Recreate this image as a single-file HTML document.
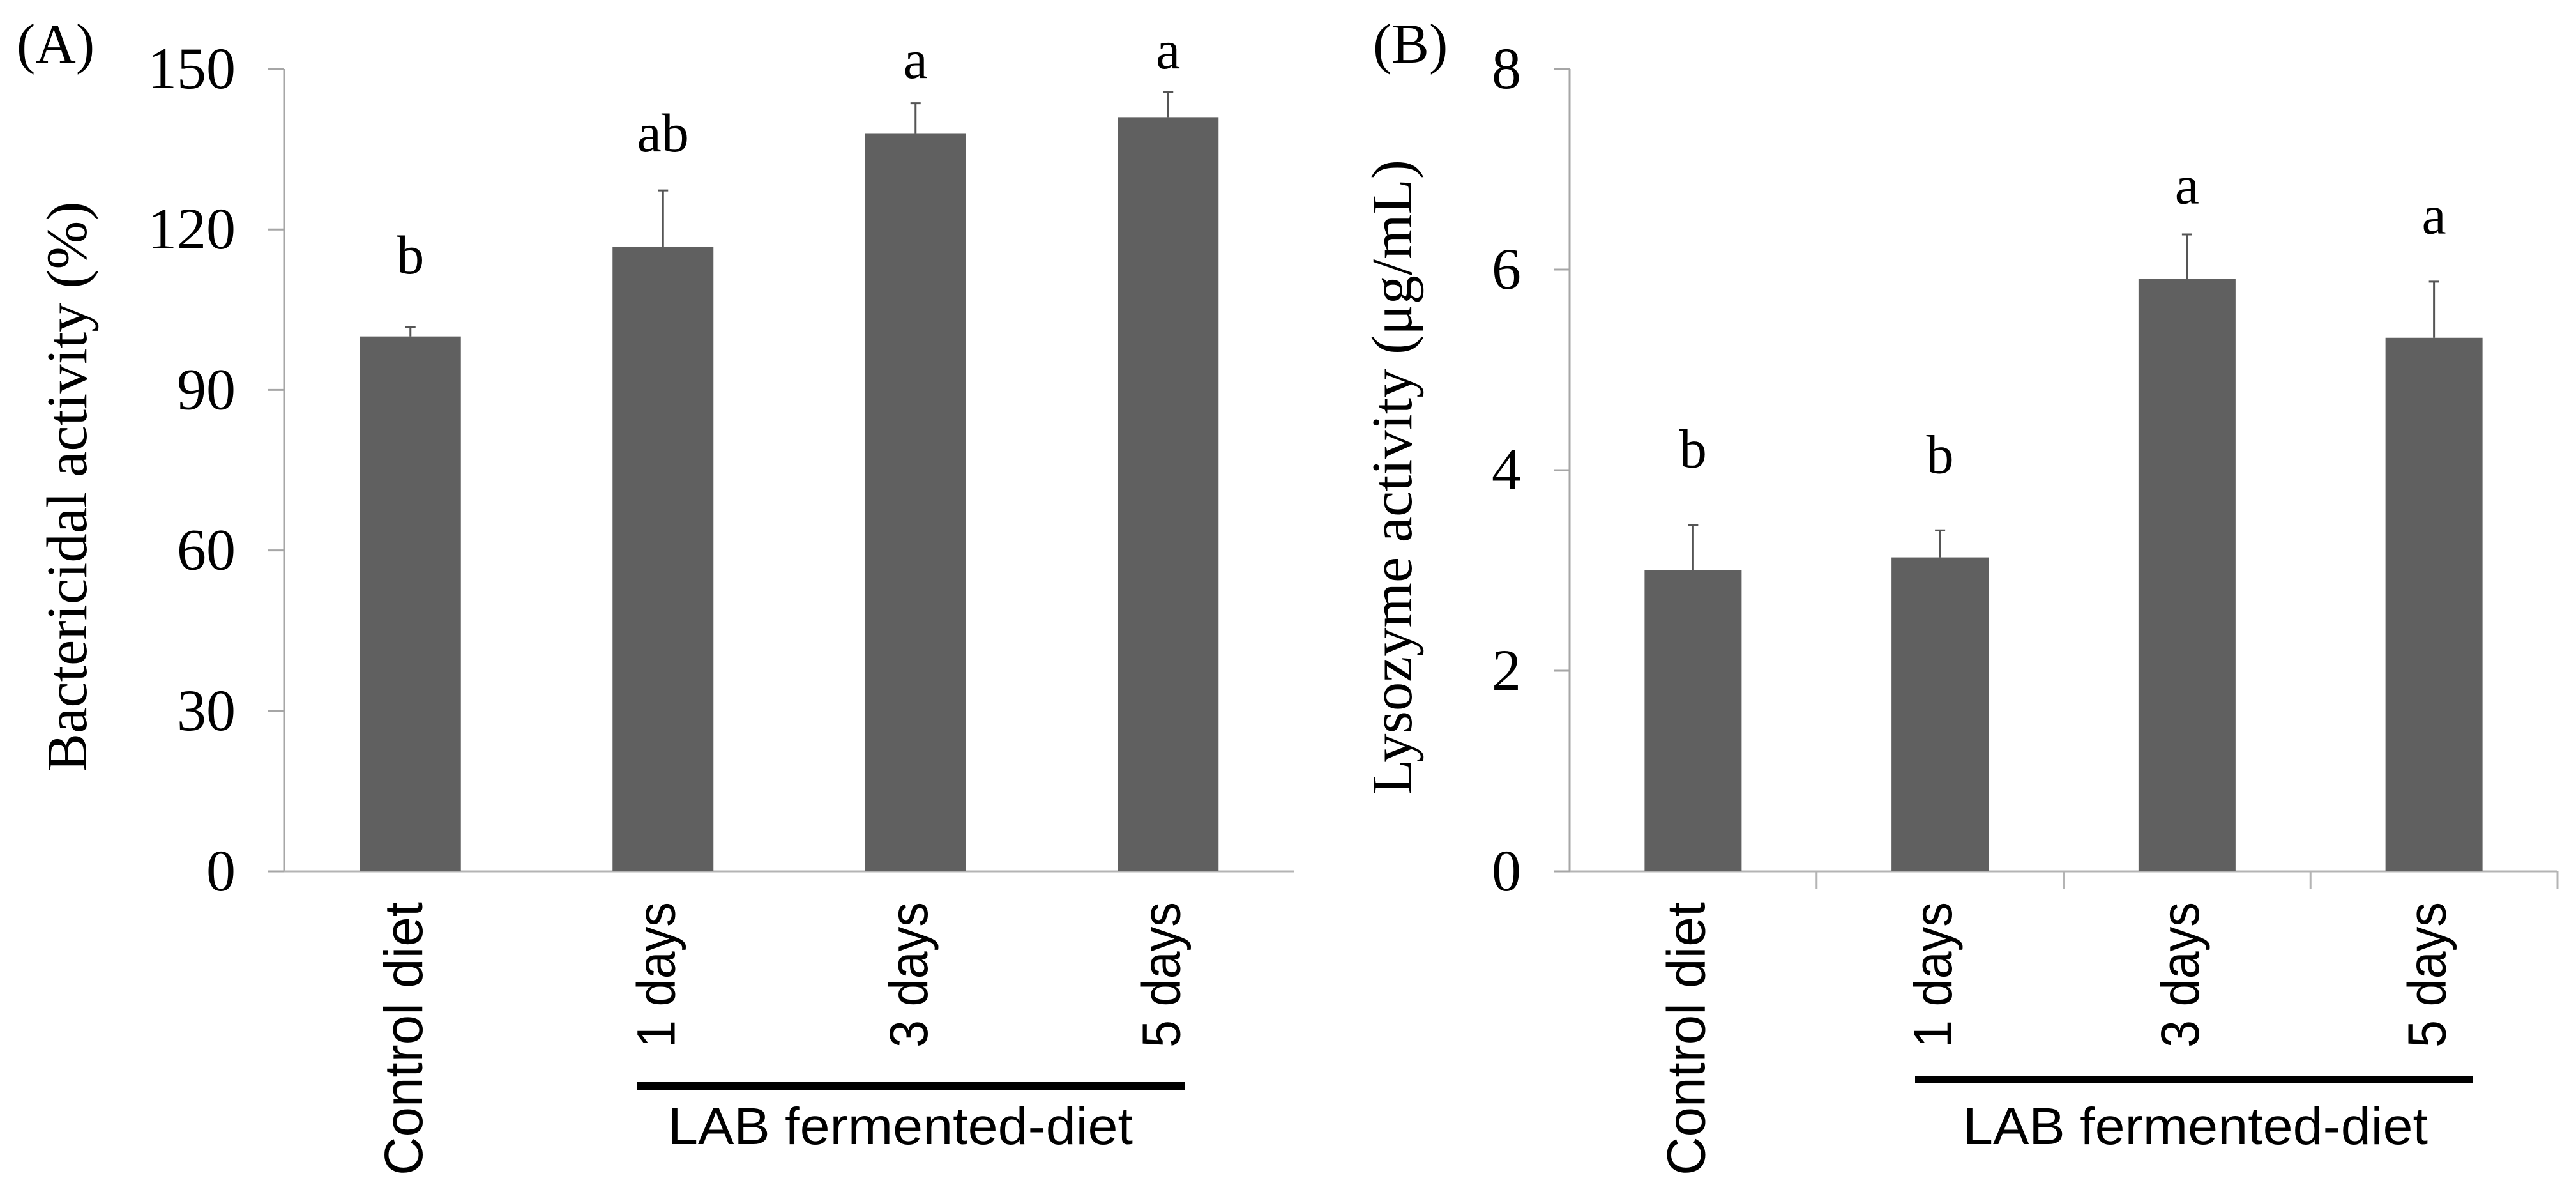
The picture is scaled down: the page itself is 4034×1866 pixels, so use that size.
<!DOCTYPE html>
<html><head><meta charset="utf-8"><style>
html,body{margin:0;padding:0;background:#fff;}
svg{display:block;}
.serif{font-family:"Liberation Serif","DejaVu Serif",serif;fill:#000;}
.sans{font-family:"Liberation Sans","DejaVu Sans",sans-serif;fill:#000;}
</style></head><body>
<svg id="fig" width="4034" height="1866" viewBox="0 0 4034 1866" xmlns="http://www.w3.org/2000/svg"></svg>
<script>
const categories = ["Control diet","1 days","3 days","5 days"];
const valuesA = [100, 116.8, 138, 141];
const errA = [1.7, 10.5, 5.6, 4.7];
const lettersA = ["b","ab","a","a"];
const letterPosA = [111.8, 134.6, 148.3, 150.1];
const ticksA = [0,30,60,90,120,150];
const valuesB = [3.0, 3.13, 5.91, 5.32];
const errB = [0.45, 0.27, 0.44, 0.56];
const lettersB = ["b","b","a","a"];
const letterPosB = [4.03, 3.97, 6.66, 6.36];
const ticksB = [0,2,4,6,8];

const NS = "http://www.w3.org/2000/svg";
const svg = document.getElementById('fig');
function mk(tag, attrs, parent){const e=document.createElementNS(NS,tag);for(const k in attrs)e.setAttribute(k,attrs[k]);(parent||svg).appendChild(e);return e;}

function panel(p){
  const g = mk('g',{});
  
  
  const y0=1364, yTop=108;
  const ys = v => y0 - (v - p.min)/(p.max - p.min)*(y0 - yTop);
  const cw = (p.xEnd - p.x0)/categories.length;
  const xc = i => p.x0 + cw*(i+0.5);
  let ax = mk('line',{x1:p.x0,y1:yTop,x2:p.x0,y2:y0,stroke:'#a6a6a6','stroke-width':3},g);
   
  let xa = mk('line',{x1:p.x0-25,y1:y0,x2:p.xEnd,y2:y0,stroke:'#b4b4b4','stroke-width':3},g);
   
  p.ticks.forEach(t=>{
    const y=ys(t);
    const tl=mk('line',{x1:p.x0-25,y1:y,x2:p.x0,y2:y,stroke:'#a6a6a6','stroke-width':3},g);
     
    const tx=mk('text',{x:p.x0-76,y:y+30,'text-anchor':'end','font-size':92,class:'serif'},g);
    tx.textContent=t;
     
  });
  if(p.catTicks){
    for(let i=1;i<=categories.length;i++){
      const x=p.x0+cw*i;
      const ct=mk('line',{x1:x,y1:y0,x2:x,y2:y0+28,stroke:'#b4b4b4','stroke-width':3},g);
       
    }
  }
  categories.forEach((c,i)=>{
    const x=xc(i), v=p.vals[i], e=p.errs[i];
    const b=mk('rect',{x:x-p.bw/2,y:ys(v),width:p.bw,height:y0-ys(v),fill:'#606060'},g);
     
    const el=mk('line',{x1:x,y1:ys(v),x2:x,y2:ys(v+e),stroke:'#555','stroke-width':3},g);
     
    const ec=mk('line',{x1:x-8,y1:ys(v+e),x2:x+8,y2:ys(v+e),stroke:'#555','stroke-width':3},g);
     
    const lt=mk('text',{x:x,y:ys(p.letterPos[i]),'text-anchor':'middle','font-size':86,class:'serif'},g);
    lt.textContent=p.letters[i];
     
    const len = [428,228,228,228][i];
    const ct=mk('text',{x:0,y:0,'text-anchor':'end','font-size':84,class:'sans',textLength:len,lengthAdjust:'spacingAndGlyphs',transform:`translate(${x+18},1412) rotate(-90)`},g);
    ct.textContent=c;
     
  });
  const ln=mk('line',{x1:p.lab[0],y1:p.lab[2],x2:p.lab[1],y2:p.lab[2],stroke:'#000','stroke-width':12},g);
   
  const lt=mk('text',{x:p.labText,y:1791,'text-anchor':'middle','font-size':82,class:'sans',textLength:728,lengthAdjust:'spacingAndGlyphs'},g);
  lt.textContent='LAB fermented-diet';
   
  const yt=mk('text',{x:0,y:0,'text-anchor':'middle','font-size':90,class:'serif',textLength:p.titleLen,lengthAdjust:'spacingAndGlyphs',transform:`translate(${p.titleX},${p.titleY}) rotate(-90)`},g);
  yt.textContent=p.title;
   
  const pl=mk('text',{x:p.tagX,y:98,'font-size':88,class:'serif'},g);
  pl.textContent=p.tag;
   
}

panel({name:'panel-a',x0:445,xEnd:2027,min:0,max:150,ticks:ticksA,vals:valuesA,errs:errA,letters:lettersA,letterPos:letterPosA,bw:158,catTicks:false,
  lab:[997,1856,1700],labText:1410,title:'Bactericidal activity (%)',titleX:135,titleY:762,titleLen:893,tag:'(A)',tagX:26});
panel({name:'panel-b',x0:2458,xEnd:4005,min:0,max:8,ticks:ticksB,vals:valuesB,errs:errB,letters:lettersB,letterPos:letterPosB,bw:152,catTicks:true,
  lab:[2999,3873,1690],labText:3438,title:'Lysozyme activity (μg/mL)',titleX:2210,titleY:747,titleLen:994,tag:'(B)',tagX:2150});
</script>
</body></html>
